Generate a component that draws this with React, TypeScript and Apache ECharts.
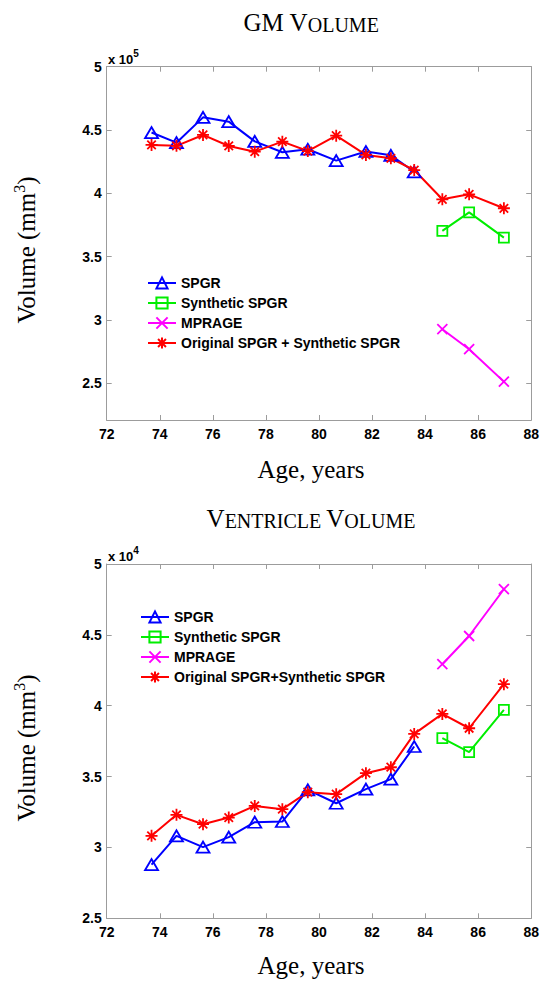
import React, { useEffect, useRef } from 'react';
import * as echarts from 'echarts';

// Ages (years) of the scans
const ages = [73.69, 74.63, 75.63, 76.6, 77.58, 78.62, 79.58, 80.65, 81.77, 82.71, 83.59, 84.65, 85.66, 86.97];

// GM volume (mm^3)
const gmSpgr = [448000, 440000, 460000, 456600, 441000, 432400, 434800, 425800, 433000, 430000, 417000];
const gmSynthetic = [370300, 385000, 365000];
const gmMprage = [292700, 276900, 251300];
const gmCombined = [438200, 437500, 446100, 437400, 432900, 440800, 433400, 445500, 430300, 427700, 418400, 395300, 399200, 388200];

// Ventricle volume (mm^3)
const vSpgr = [28790, 30820, 30020, 30730, 31780, 31830, 34060, 33120, 34110, 34820, 37120];
const vSynthetic = [37710, 36720, 39700];
const vMprage = [42930, 44920, 48220];
const vCombined = [30820, 32300, 31640, 32110, 32930, 32700, 33900, 33760, 35240, 35660, 38010, 39420, 38410, 41520];

const xTicks = { min: 72, max: 88, interval: 2 };

const BLUE = '#0000ff';
const GREEN = '#00ee00';
const MAGENTA = '#ff00ff';
const RED = '#ff0000';

const TRI = 'path://M0,-10L8.66,5L-8.66,5Z';
const SQ = 'path://M-5,-5L5,-5L5,5L-5,5Z';
const STAR = 'path://M0,-10L0,10M-10,0L10,0M-7.07,-7.07L7.07,7.07M-7.07,7.07L7.07,-7.07';
const XM = 'path://M-5,-5L5,5M-5,5L5,-5';

const AXIS_GREY = '#9c9c9c';
const SANS = 'Liberation Sans';
const SERIF = 'Liberation Serif';

function pairs(xs: number[], ys: number[]) {
  return ys.map((y, i) => [xs[i], y]);
}

function mkSeries(name: string, xs: number[], ys: number[], color: string, symbol: string, size: number | number[], idx: number) {
  return {
    type: 'line',
    name,
    xAxisIndex: idx * 2,
    yAxisIndex: idx * 2,
    data: pairs(xs, ys),
    symbol,
    symbolSize: size,
    showAllSymbol: true,
    lineStyle: { color, width: 2 },
    itemStyle: { color: 'rgba(0,0,0,0)', borderColor: color, borderWidth: 1.8 },
    emphasis: { disabled: true },
    z: 2,
  };
}

function xAxisPair(gridIndex: number) {
  const base = {
    type: 'value',
    gridIndex,
    min: xTicks.min,
    max: xTicks.max,
    interval: xTicks.interval,
    splitLine: { show: false },
    axisLine: { show: true, onZero: false, lineStyle: { color: AXIS_GREY, width: 1 } },
    axisTick: { show: true, inside: true, length: 5, lineStyle: { color: AXIS_GREY, width: 1 } },
  };
  return [
    {
      ...base,
      position: 'bottom',
      axisLabel: { color: '#000', fontWeight: 'bold', fontSize: 14, fontFamily: SANS, margin: 7 },
    },
    { ...base, position: 'top', axisLabel: { show: false } },
  ];
}

function yAxisPair(gridIndex: number, min: number, max: number, scale: number, interval?: number) {
  const base: any = {
    type: 'value',
    gridIndex,
    min,
    max,
    splitLine: { show: false },
    axisLine: { show: true, onZero: false, lineStyle: { color: AXIS_GREY, width: 1 } },
    axisTick: { show: true, inside: true, length: 5, lineStyle: { color: AXIS_GREY, width: 1 } },
  };
  if (interval) base.interval = interval;
  else base.splitNumber = 5;
  return [
    {
      ...base,
      position: 'left',
      axisLabel: {
        color: '#000',
        fontWeight: 'bold',
        fontSize: 14,
        fontFamily: SANS,
        margin: 5,
        formatter: (v: number) => (Math.round(v) % (scale / 2) === 0 ? String(v / scale) : ''),
      },
    },
    { ...base, position: 'right', axisLabel: { show: false } },
  ];
}

export default function App() {
  const ref = useRef<HTMLDivElement>(null);
  useEffect(() => {
    document.body.style.margin = '0';
    if (!ref.current) return;
    const chart = echarts.init(ref.current, null, { renderer: 'svg' });
    const gridL = 106.7;
    const gridW = 425.6;
    const legendText = { fontFamily: SANS, fontWeight: 'bold', fontSize: 14, color: '#000' };
    const titleRich = {
      a: { fontFamily: SERIF, fontSize: 25, fill: '#000', verticalAlign: 'bottom', lineHeight: 27 },
      b: { fontFamily: SERIF, fontSize: 20, fill: '#000', verticalAlign: 'bottom', lineHeight: 27 },
    };
    const option: any = {
      animation: false,
      backgroundColor: '#fff',
      grid: [
        { left: gridL, top: 66.7, width: gridW, height: 353.3 },
        { left: gridL, top: 564, width: gridW, height: 354.3 },
      ],
      xAxis: [...xAxisPair(0), ...xAxisPair(1)],
      yAxis: [...yAxisPair(0, 221000, 500000, 100000), ...yAxisPair(1, 25000, 50000, 10000, 5000)],
      legend: [
        {
          orient: 'vertical',
          left: 147,
          top: 276,
          padding: 0,
          itemWidth: 28,
          itemHeight: 14,
          itemGap: 6,
          textStyle: legendText,
          data: ['SPGR', 'Synthetic SPGR', 'MPRAGE', 'Original SPGR + Synthetic SPGR'],
        },
        {
          orient: 'vertical',
          left: 140,
          top: 610,
          padding: 0,
          itemWidth: 28,
          itemHeight: 14,
          itemGap: 6,
          textStyle: legendText,
          data: ['SPGR', 'Synthetic SPGR', 'MPRAGE', 'Original SPGR+Synthetic SPGR'],
        },
      ],
      series: [
        mkSeries('SPGR', ages, gmSpgr, BLUE, TRI, [13, 11], 0),
        mkSeries('Synthetic SPGR', ages.slice(11), gmSynthetic, GREEN, SQ, 10, 0),
        mkSeries('MPRAGE', ages.slice(11), gmMprage, MAGENTA, XM, 10, 0),
        mkSeries('Original SPGR + Synthetic SPGR', ages, gmCombined, RED, STAR, 12, 0),
        mkSeries('SPGR', ages, vSpgr, BLUE, TRI, [13, 11], 1),
        mkSeries('Synthetic SPGR', ages.slice(11), vSynthetic, GREEN, SQ, 10, 1),
        mkSeries('MPRAGE', ages.slice(11), vMprage, MAGENTA, XM, 10, 1),
        mkSeries('Original SPGR+Synthetic SPGR', ages, vCombined, RED, STAR, 12, 1),
      ],
      graphic: [
        {
          type: 'text',
          x: 311,
          y: 21,
          style: { text: '{a|GM V}{b|OLUME}', align: 'center', verticalAlign: 'middle', rich: titleRich },
        },
        {
          type: 'text',
          x: 311,
          y: 517,
          style: { text: '{a|V}{b|ENTRICLE }{a|V}{b|OLUME}', align: 'center', verticalAlign: 'middle', rich: titleRich },
        },
        {
          type: 'text',
          x: 311,
          y: 469,
          style: { text: 'Age, years', fontFamily: SERIF, fontSize: 25, fill: '#000', align: 'center', verticalAlign: 'middle' },
        },
        {
          type: 'text',
          x: 311,
          y: 965,
          style: { text: 'Age, years', fontFamily: SERIF, fontSize: 25, fill: '#000', align: 'center', verticalAlign: 'middle' },
        },
        ...[250, 748].map((cy) => ({
          type: 'text',
          x: 26,
          y: cy,
          rotation: Math.PI / 2,
          style: {
            text: '{a|Volume (mm}{s|3}{a|)}',
            align: 'center',
            verticalAlign: 'middle',
            rich: {
              a: { fontFamily: SERIF, fontSize: 25, fill: '#000', lineHeight: 30 },
              s: { fontFamily: SERIF, fontSize: 16, fill: '#000', verticalAlign: 'top', lineHeight: 30 },
            },
          },
        })),
        ...[
          { y: 57, e: '5' },
          { y: 554, e: '4' },
        ].map((t) => ({
          type: 'text',
          x: 108,
          y: t.y,
          style: {
            text: `{a|x 10}{s|${t.e}}`,
            align: 'left',
            verticalAlign: 'middle',
            rich: {
              a: { fontFamily: SANS, fontWeight: 'bold', fontSize: 13, fill: '#000', lineHeight: 17, verticalAlign: 'bottom' },
              s: { fontFamily: SANS, fontWeight: 'bold', fontSize: 10, fill: '#000', lineHeight: 17, verticalAlign: 'top' },
            },
          },
        })),
      ],
    };
    chart.setOption(option);
    return () => chart.dispose();
  }, []);
  return <div ref={ref} style={{ width: 542, height: 984 }} />;
}
